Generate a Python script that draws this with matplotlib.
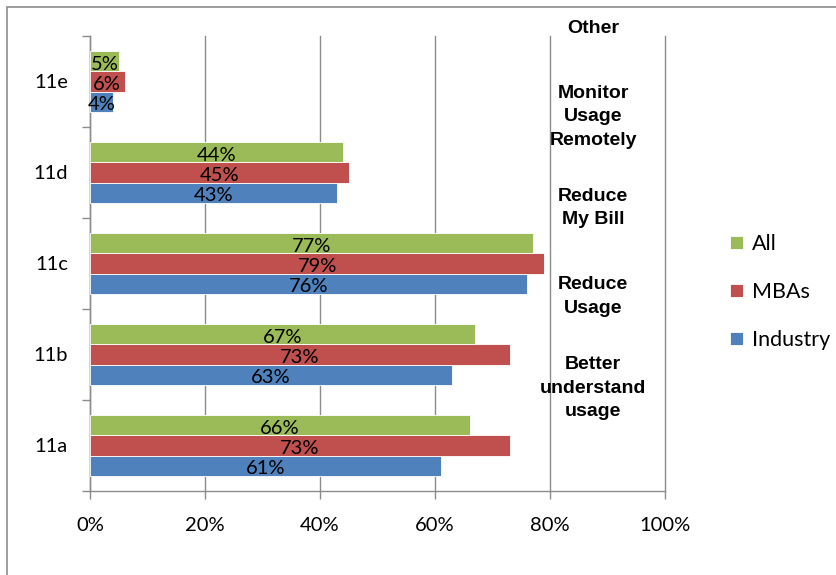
import numpy as np
import matplotlib
matplotlib.use('Agg')
import matplotlib.pyplot as plt
from matplotlib.patches import Rectangle

###-----------data--------------------------
categories = ['11a', '11b', '11c', '11d', '11e']
industry = [61, 63, 76, 43, 4]
mbas = [73, 73, 79, 45, 6]
all_resp = [66, 67, 77, 44, 5]
series_names = ['Industry', 'MBAs', 'All']
series_colors = ['#4F81BD', '#C0504D', '#9BBB59']
notes = ['Better\nunderstand\nusage', 'Reduce\nUsage', 'Reduce\nMy Bill',
         'Monitor\nUsage\nRemotely', 'Other']
x_ticks = [0, 20, 40, 60, 80, 100]
####------------------------------------------

plt.rcParams['font.family'] = ['Lato', 'DejaVu Sans']

fig = plt.figure(figsize=(8.36, 5.75), dpi=100)
ax = fig.add_axes([0.1077, 0.1461, 0.6878, 0.7913])

# outer chart border (right/bottom edges fall off the picture)
fig.patches.append(Rectangle((7 / 836, -0.05), 1.1, 1 - 7 / 575 + 0.05,
                             transform=fig.transFigure, fill=False,
                             edgecolor='#8c8c8c', linewidth=1.2))

y = np.arange(len(categories))
h = 0.22
data = [industry, mbas, all_resp]
for i, (vals, name, col) in enumerate(zip(data, series_names, series_colors)):
    pos = y + (i - 1) * h
    ax.barh(pos, vals, height=h, color=col, edgecolor='white', linewidth=0.6,
            label=name, zorder=3)
    for p, v in zip(pos, vals):
        ax.text(v / 2, p - 0.03, f'{v}%', ha='center', va='center', fontsize=14.5,
                color='black', zorder=4)

ax.set_xlim(0, 100)
ax.set_ylim(-0.5, len(categories) - 0.5)

ax.set_xticks(x_ticks)
ax.set_xticklabels([f'{t}%' for t in x_ticks], fontsize=14.5)
ax.xaxis.grid(True, color='#8c8c8c', linewidth=1.0, zorder=0)
for gl in ax.get_xgridlines():
    gl.set_clip_on(False)
ax.tick_params(axis='x', length=6, width=1, color='#8c8c8c', pad=13)

ax.set_yticks(np.arange(len(categories) + 1) - 0.5)
ax.set_yticklabels([])
ax.set_yticks(y, minor=True)
ax.set_yticklabels(categories, minor=True, fontsize=14.5)
ax.tick_params(axis='y', which='major', length=6, width=1, color='#8c8c8c')
ax.tick_params(axis='y', which='minor', length=0, pad=16)

for s in ['top', 'right']:
    ax.spines[s].set_visible(False)
for s in ['left', 'bottom']:
    ax.spines[s].set_color('#8c8c8c')
    ax.spines[s].set_linewidth(1.0)

# question notes drawn next to the 80% gridline
note_pos = [0.63, 1.64, 2.61, 3.61, 4.58]
for txt, yy in zip(notes, note_pos):
    ax.text(87.5, yy, txt, ha='center', va='center', fontsize=14,
            fontweight='bold', family='Liberation Sans', linespacing=1.5,
            zorder=5, clip_on=False)

handles, labels = ax.get_legend_handles_labels()
leg = fig.legend(handles[::-1], labels[::-1], loc='center left',
                 bbox_to_anchor=(0.85, 0.492), frameon=False, fontsize=15.5,
                 handlelength=0.6, handleheight=0.6, labelspacing=1.3,
                 handletextpad=0.4)

fig.savefig('out.png', dpi=100)
